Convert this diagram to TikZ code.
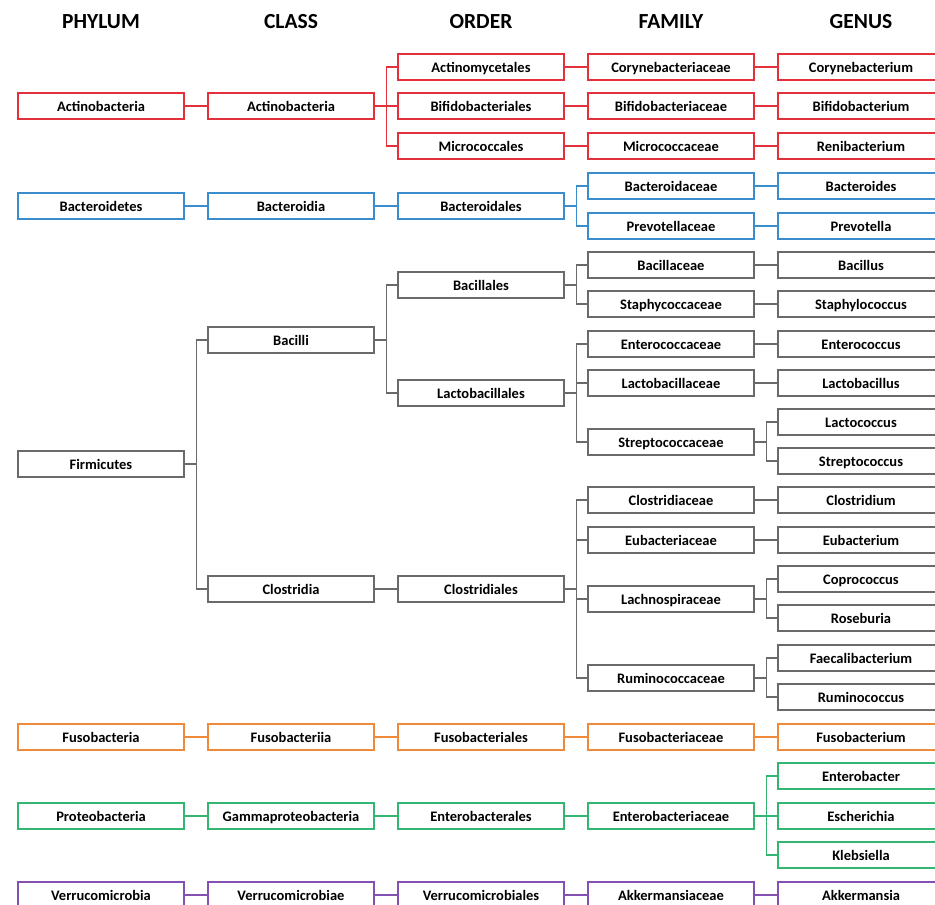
\documentclass[tikz,border=0pt]{standalone}
\usepackage{fontspec}
\setmainfont{Carlito}
\usetikzlibrary{positioning}
\definecolor{actin}{HTML}{E2313B}
\definecolor{bacte}{HTML}{3A8DCC}
\definecolor{firmi}{HTML}{6A6A6A}
\definecolor{fuso}{HTML}{EE8A3A}
\definecolor{proteo}{HTML}{35B572}
\definecolor{verru}{HTML}{8450B2}
\tikzset{
  taxon/.style={draw=#1,line width=1.3pt,minimum width=166pt,minimum height=26pt,
    inner sep=0pt,text height=10.5pt,text depth=0pt,
    font=\bfseries\fontsize{14.5}{16}\selectfont},
  rank/.style={font=\bfseries\fontsize{21.5}{25}\selectfont},
  link/.style={draw=#1,line width=1.3pt}
}

\begin{document}
\begin{tikzpicture}[x=1pt,y=-1pt]
  \path[use as bounding box,clip] (0,0) rectangle (935,905);

  % Rank headers
  \node[rank] (hphy) at (101,22) {PHYLUM};
  \node[rank] (hcla) at (291,22) {CLASS};
  \node[rank] (hord) at (481,22) {ORDER};
  \node[rank] (hfam) at (671,22) {FAMILY};
  \node[rank] (hgen) at (861,22) {GENUS};

  % Actinobacteria
  \node[taxon=actin] (p1)  at (101,106) {Actinobacteria};
  \node[taxon=actin] (c1)  at (291,106) {Actinobacteria};
  \node[taxon=actin] (o1a) at (481,67)  {Actinomycetales};
  \node[taxon=actin] (o1b) at (481,106) {Bifidobacteriales};
  \node[taxon=actin] (o1c) at (481,146) {Micrococcales};
  \node[taxon=actin] (f1a) at (671,67)  {Corynebacteriaceae};
  \node[taxon=actin] (f1b) at (671,106) {Bifidobacteriaceae};
  \node[taxon=actin] (f1c) at (671,146) {Micrococcaceae};
  \node[taxon=actin] (g1a) at (861,67)  {Corynebacterium};
  \node[taxon=actin] (g1b) at (861,106) {Bifidobacterium};
  \node[taxon=actin] (g1c) at (861,146) {Renibacterium};
  \foreach \a/\b in {p1/c1,c1/o1a,c1/o1b,c1/o1c,o1a/f1a,o1b/f1b,o1c/f1c,f1a/g1a,f1b/g1b,f1c/g1c}
    \draw[link=actin] (\a.east) -- ++(12,0) |- (\b.west);

  % Bacteroidetes
  \node[taxon=bacte] (p2)  at (101,206) {Bacteroidetes};
  \node[taxon=bacte] (c2)  at (291,206) {Bacteroidia};
  \node[taxon=bacte] (o2)  at (481,206) {Bacteroidales};
  \node[taxon=bacte] (f2a) at (671,186) {Bacteroidaceae};
  \node[taxon=bacte] (f2b) at (671,226) {Prevotellaceae};
  \node[taxon=bacte] (g2a) at (861,186) {Bacteroides};
  \node[taxon=bacte] (g2b) at (861,226) {Prevotella};
  \foreach \a/\b in {p2/c2,c2/o2,o2/f2a,o2/f2b,f2a/g2a,f2b/g2b}
    \draw[link=bacte] (\a.east) -- ++(12,0) |- (\b.west);

  % Firmicutes
  \node[taxon=firmi] (p3)  at (101,464) {Firmicutes};
  \node[taxon=firmi] (c3a) at (291,340) {Bacilli};
  \node[taxon=firmi] (c3b) at (291,589) {Clostridia};
  \node[taxon=firmi] (o3a) at (481,285) {Bacillales};
  \node[taxon=firmi] (o3b) at (481,393) {Lactobacillales};
  \node[taxon=firmi] (o3c) at (481,589) {Clostridiales};
  \node[taxon=firmi] (f3a) at (671,265) {Bacillaceae};
  \node[taxon=firmi] (f3b) at (671,304) {Staphycoccaceae};
  \node[taxon=firmi] (f3c) at (671,344) {Enterococcaceae};
  \node[taxon=firmi] (f3d) at (671,383) {Lactobacillaceae};
  \node[taxon=firmi] (f3e) at (671,442) {Streptococcaceae};
  \node[taxon=firmi] (f3f) at (671,500) {Clostridiaceae};
  \node[taxon=firmi] (f3g) at (671,540) {Eubacteriaceae};
  \node[taxon=firmi] (f3h) at (671,599) {Lachnospiraceae};
  \node[taxon=firmi] (f3i) at (671,678) {Ruminococcaceae};
  \node[taxon=firmi] (g3a) at (861,265) {Bacillus};
  \node[taxon=firmi] (g3b) at (861,304) {Staphylococcus};
  \node[taxon=firmi] (g3c) at (861,344) {Enterococcus};
  \node[taxon=firmi] (g3d) at (861,383) {Lactobacillus};
  \node[taxon=firmi] (g3e) at (861,422) {Lactococcus};
  \node[taxon=firmi] (g3f) at (861,461) {Streptococcus};
  \node[taxon=firmi] (g3g) at (861,500) {Clostridium};
  \node[taxon=firmi] (g3h) at (861,540) {Eubacterium};
  \node[taxon=firmi] (g3i) at (861,579) {Coprococcus};
  \node[taxon=firmi] (g3j) at (861,618) {Roseburia};
  \node[taxon=firmi] (g3k) at (861,658) {Faecalibacterium};
  \node[taxon=firmi] (g3l) at (861,697) {Ruminococcus};
  \foreach \a/\b in {p3/c3a,p3/c3b,c3a/o3a,c3a/o3b,c3b/o3c,
                     o3a/f3a,o3a/f3b,o3b/f3c,o3b/f3d,o3b/f3e,
                     o3c/f3f,o3c/f3g,o3c/f3h,o3c/f3i,
                     f3a/g3a,f3b/g3b,f3c/g3c,f3d/g3d,f3e/g3e,f3e/g3f,
                     f3f/g3g,f3g/g3h,f3h/g3i,f3h/g3j,f3i/g3k,f3i/g3l}
    \draw[link=firmi] (\a.east) -- ++(12,0) |- (\b.west);

  % Fusobacteria
  \node[taxon=fuso] (p4) at (101,737) {Fusobacteria};
  \node[taxon=fuso] (c4) at (291,737) {Fusobacteriia};
  \node[taxon=fuso] (o4) at (481,737) {Fusobacteriales};
  \node[taxon=fuso] (f4) at (671,737) {Fusobacteriaceae};
  \node[taxon=fuso] (g4) at (861,737) {Fusobacterium};
  \foreach \a/\b in {p4/c4,c4/o4,o4/f4,f4/g4}
    \draw[link=fuso] (\a.east) -- (\b.west);

  % Proteobacteria
  \node[taxon=proteo] (p5)  at (101,816) {Proteobacteria};
  \node[taxon=proteo] (c5)  at (291,816) {Gammaproteobacteria};
  \node[taxon=proteo] (o5)  at (481,816) {Enterobacterales};
  \node[taxon=proteo] (f5)  at (671,816) {Enterobacteriaceae};
  \node[taxon=proteo] (g5a) at (861,776) {Enterobacter};
  \node[taxon=proteo] (g5b) at (861,816) {Escherichia};
  \node[taxon=proteo] (g5c) at (861,855) {Klebsiella};
  \foreach \a/\b in {p5/c5,c5/o5,o5/f5,f5/g5a,f5/g5b,f5/g5c}
    \draw[link=proteo] (\a.east) -- ++(12,0) |- (\b.west);

  % Verrucomicrobia
  \node[taxon=verru] (p6) at (101,895) {Verrucomicrobia};
  \node[taxon=verru] (c6) at (291,895) {Verrucomicrobiae};
  \node[taxon=verru] (o6) at (481,895) {Verrucomicrobiales};
  \node[taxon=verru] (f6) at (671,895) {Akkermansiaceae};
  \node[taxon=verru] (g6) at (861,895) {Akkermansia};
  \foreach \a/\b in {p6/c6,c6/o6,o6/f6,f6/g6}
    \draw[link=verru] (\a.east) -- (\b.west);
\end{tikzpicture}
\end{document}
